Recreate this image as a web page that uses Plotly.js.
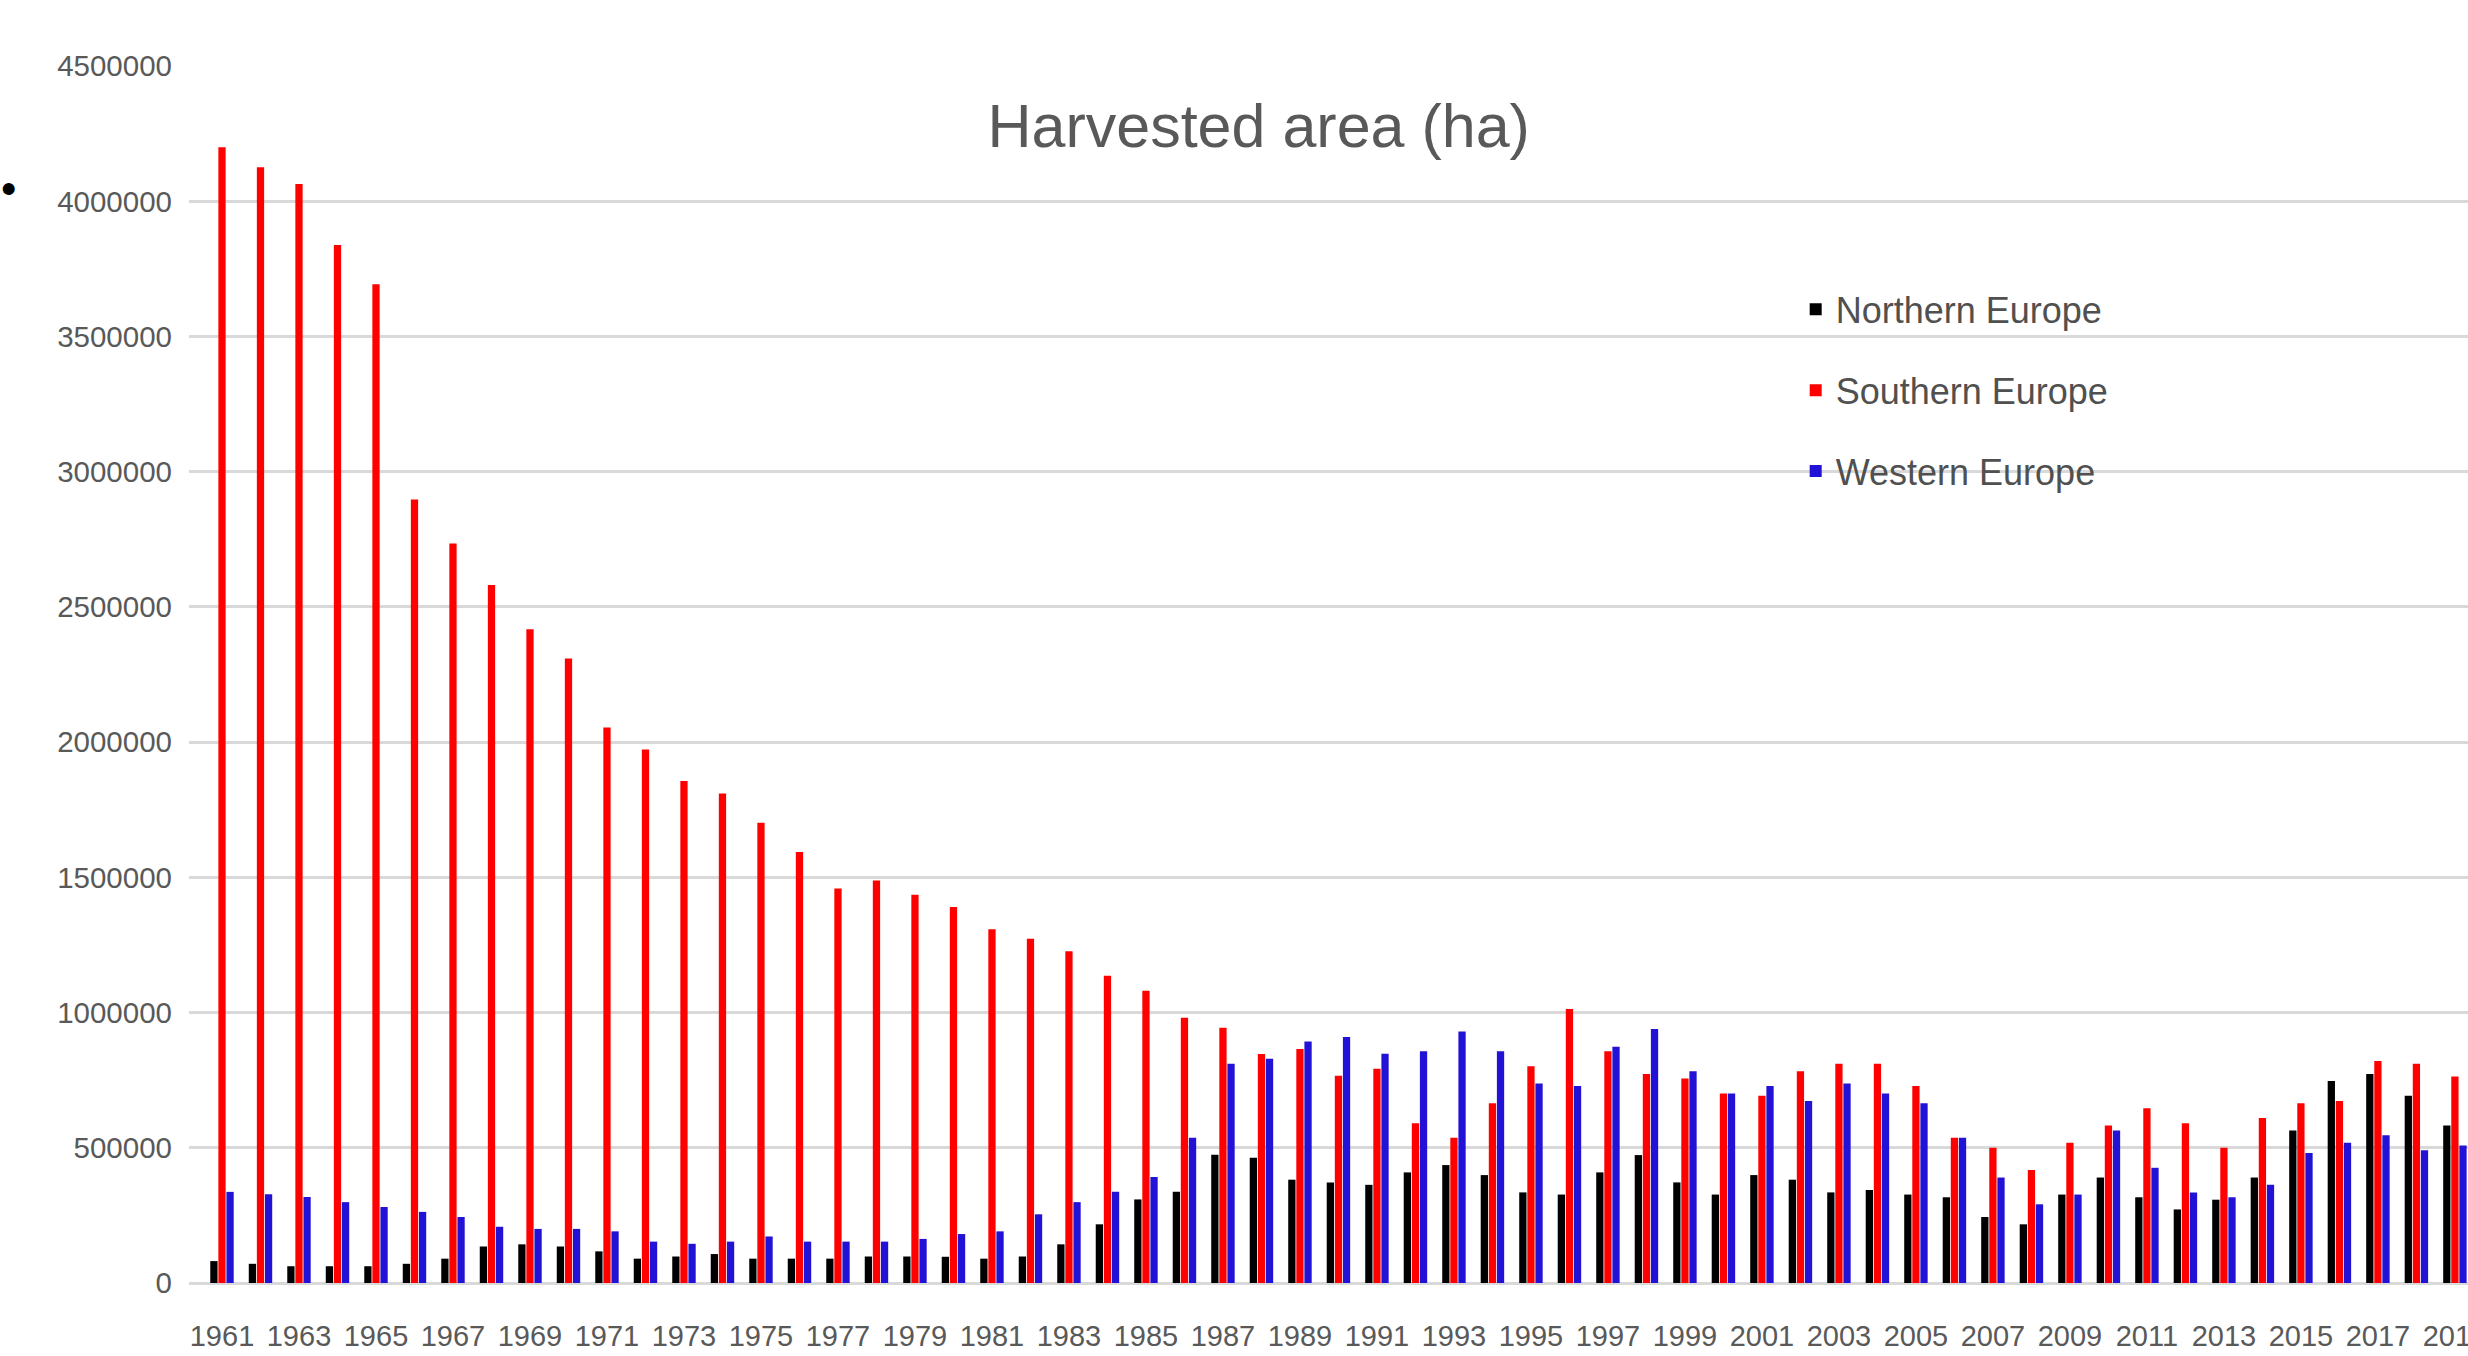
<!DOCTYPE html>
<html>
<head>
<meta charset="utf-8">
<script src="https://cdn.plot.ly/plotly-3.0.1.min.js"></script>
<style>
html,body{margin:0;padding:0;background:#fff;overflow:hidden;}
#chart{width:2468px;height:1356px;}
</style>
</head>
<body>
<div id="chart"></div>
<script>
const years = ['1961','1962','1963','1964','1965','1966','1967','1968','1969','1970',
'1971','1972','1973','1974','1975','1976','1977','1978','1979','1980',
'1981','1982','1983','1984','1985','1986','1987','1988','1989','1990',
'1991','1992','1993','1994','1995','1996','1997','1998','1999','2000',
'2001','2002','2003','2004','2005','2006','2007','2008','2009','2010',
'2011','2012','2013','2014','2015','2016','2017','2018','2019'];

const northernEurope = [81000,71000,62000,62000,62000,71000,90000,135000,143000,135000,
117000,90000,98000,107000,90000,90000,90000,98000,98000,97000,
90000,98000,143000,217000,309000,337000,474000,463000,382000,372000,
363000,409000,436000,399000,335000,327000,409000,473000,372000,327000,
399000,382000,335000,344000,327000,317000,244000,217000,327000,390000,
317000,272000,308000,390000,564000,747000,773000,692000,582000];

const southernEurope = [4200000,4126000,4064000,3838000,3693000,2897000,2734000,2581000,2417000,2309000,
2054000,1973000,1856000,1810000,1702000,1594000,1459000,1488000,1436000,1390000,
1308000,1273000,1227000,1136000,1081000,981000,944000,847000,865000,766000,
792000,591000,537000,665000,801000,1013000,857000,773000,756000,701000,
692000,783000,811000,811000,728000,537000,500000,418000,519000,582000,
646000,591000,500000,610000,665000,673000,821000,811000,764000];

const westernEurope = [337000,328000,318000,299000,281000,263000,244000,208000,200000,200000,
191000,153000,145000,153000,172000,153000,153000,153000,163000,181000,
191000,254000,299000,337000,392000,537000,811000,829000,893000,910000,
848000,857000,930000,857000,738000,728000,874000,939000,783000,701000,
728000,673000,738000,701000,665000,537000,390000,291000,327000,564000,
426000,335000,317000,363000,481000,519000,546000,491000,508000];

const xTickLabels = ['1961','1963','1965','1967','1969','1971','1973','1975','1977','1979',
'1981','1983','1985','1987','1989','1991','1993','1995','1997','1999',
'2001','2003','2005','2007','2009','2011','2013','2015','2017','2019'];

const yTickValues = [0,500000,1000000,1500000,2000000,2500000,3000000,3500000,4000000,4500000];

const seriesNames = ['Northern Europe','Southern Europe','Western Europe'];
const seriesColors = ['#000000','#FF0000','#2212D6'];
const seriesValues = [northernEurope, southernEurope, westernEurope];

const FONT = '"Liberation Sans", Arial, sans-serif';

const traces = seriesValues.map((vals, i) => ({
  type: 'bar',
  name: seriesNames[i],
  x: years,
  y: vals,
  legendgroup: 'g' + i,
  marker: {color: seriesColors[i], line: {width: 0}},
  hoverinfo: 'x+y+name'
}));

const layout = {
  width: 2468,
  height: 1356,
  paper_bgcolor: '#ffffff',
  plot_bgcolor: '#ffffff',
  margin: {l: 189, r: 0, t: 66, b: 73, pad: 0},
  barmode: 'group',
  bargap: 0.37,
  bargroupgap: 0.1,
  title: {
    text: 'Harvested area (ha)',
    x: 0.51, xref: 'container', xanchor: 'center',
    y: 0.907, yref: 'container', yanchor: 'middle',
    font: {family: FONT, size: 61, color: '#595959'}
  },
  xaxis: {
    type: 'category',
    range: [-0.857, 58.34],
    tickmode: 'array',
    tickvals: xTickLabels,
    ticktext: xTickLabels,
    ticks: '',
    showgrid: false,
    showline: false,
    zeroline: false,
    tickangle: 0,
    ticklabelstandoff: 33,
    tickfont: {family: FONT, size: 29, color: '#595959'}
  },
  yaxis: {
    range: [0, 4500000],
    tickmode: 'array',
    tickvals: yTickValues,
    ticktext: yTickValues.map(String),
    ticks: '',
    showgrid: true,
    gridcolor: '#D9D9D9',
    gridwidth: 3,
    zeroline: true,
    zerolinecolor: '#D9D9D9',
    zerolinewidth: 3,
    showline: false,
    ticklabelstandoff: 16,
    tickfont: {family: FONT, size: 29.5, color: '#595959'}
  },
  showlegend: true,
  legend: {
    x: 0.705, xanchor: 'left',
    y: 0.8246, yanchor: 'top',
    traceorder: 'grouped',
    tracegroupgap: 31,
    bgcolor: 'rgba(0,0,0,0)',
    font: {family: FONT, size: 36, color: '#505050'}
  },
  annotations: [{
    text: '•',
    xref: 'paper', yref: 'paper',
    x: -0.0794, y: 0.899,
    xanchor: 'center', yanchor: 'middle',
    showarrow: false,
    font: {family: FONT, size: 44, color: '#000000'}
  }]
};

Plotly.newPlot('chart', traces, layout, {displayModeBar: false, staticPlot: true});
</script>
</body>
</html>
